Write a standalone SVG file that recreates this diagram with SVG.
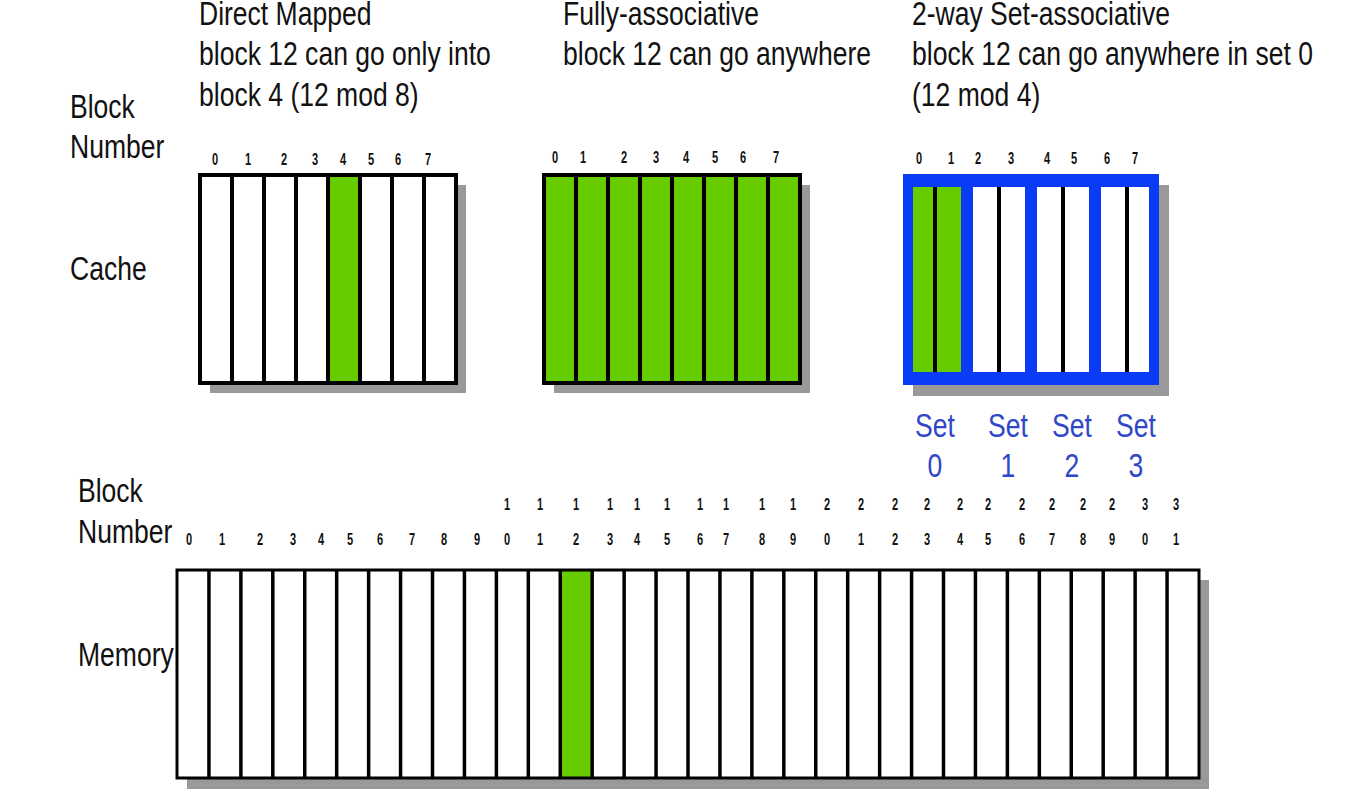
<svg xmlns="http://www.w3.org/2000/svg" width="1346" height="798" viewBox="0 0 1346 798">
<style>
.t{font-family:"Liberation Sans",Arial,sans-serif;font-size:34px;fill:#111}
.s{font-family:"Liberation Sans",Arial,sans-serif;font-size:34px;fill:#2f46c8;text-anchor:middle}
.d{font-family:"Liberation Sans",Arial,sans-serif;font-size:17px;font-weight:bold;fill:#111;text-anchor:middle}
.sh{fill:#999}
.w{fill:#fff}
.g{fill:#66cc00}
.box{fill:none;stroke:#000;stroke-width:4}
.sep{stroke:#000;stroke-width:4}
.msep{stroke:#000;stroke-width:3.5}
</style>
<rect width="1346" height="798" fill="#fff"/>
<g id="labels">
<text class="t" transform="translate(199 25) scale(0.78 1)">Direct Mapped</text>
<text class="t" transform="translate(199 65) scale(0.78 1)">block 12 can go only into</text>
<text class="t" transform="translate(199 106) scale(0.78 1)">block 4 (12 mod 8)</text>
<text class="t" transform="translate(563 25) scale(0.78 1)">Fully-associative</text>
<text class="t" transform="translate(563 65) scale(0.78 1)">block 12 can go anywhere</text>
<text class="t" transform="translate(912 25) scale(0.78 1)">2-way Set-associative</text>
<text class="t" transform="translate(912 65) scale(0.78 1)">block 12 can go anywhere in set 0</text>
<text class="t" transform="translate(912 106) scale(0.78 1)">(12 mod 4)</text>
<text class="t" transform="translate(70 118) scale(0.78 1)">Block</text>
<text class="t" transform="translate(70 158) scale(0.78 1)">Number</text>
<text class="t" transform="translate(70 280) scale(0.78 1)">Cache</text>
<text class="t" transform="translate(78 502) scale(0.78 1)">Block</text>
<text class="t" transform="translate(78 543) scale(0.78 1)">Number</text>
<text class="t" transform="translate(78 666) scale(0.78 1)">Memory</text>
</g>
<g id="direct-mapped-cache">
<rect class="sh" x="210" y="185" width="256" height="208"/>
<rect class="w" x="200" y="175" width="256" height="208"/>
<rect class="g" x="328" y="175" width="32" height="208"/>
<path class="sep" d="M232 175V383M264 175V383M296 175V383M328 175V383M360 175V383M392 175V383M424 175V383"/>
<rect class="box" x="200" y="175" width="256" height="208"/>
<text class="d" transform="translate(215 165) scale(0.65 1)">0</text>
<text class="d" transform="translate(248 165) scale(0.65 1)">1</text>
<text class="d" transform="translate(284 165) scale(0.65 1)">2</text>
<text class="d" transform="translate(315 165) scale(0.65 1)">3</text>
<text class="d" transform="translate(343 165) scale(0.65 1)">4</text>
<text class="d" transform="translate(371 165) scale(0.65 1)">5</text>
<text class="d" transform="translate(398 165) scale(0.65 1)">6</text>
<text class="d" transform="translate(428 165) scale(0.65 1)">7</text>
</g>
<g id="fully-associative-cache">
<rect class="sh" x="554" y="185" width="256" height="208"/>
<rect class="g" x="544" y="175" width="256" height="208"/>
<path class="sep" d="M576 175V383M608 175V383M640 175V383M672 175V383M704 175V383M736 175V383M768 175V383"/>
<rect class="box" x="544" y="175" width="256" height="208"/>
<text class="d" transform="translate(555 163) scale(0.65 1)">0</text>
<text class="d" transform="translate(583 163) scale(0.65 1)">1</text>
<text class="d" transform="translate(624 163) scale(0.65 1)">2</text>
<text class="d" transform="translate(656 163) scale(0.65 1)">3</text>
<text class="d" transform="translate(686 163) scale(0.65 1)">4</text>
<text class="d" transform="translate(715 163) scale(0.65 1)">5</text>
<text class="d" transform="translate(743 163) scale(0.65 1)">6</text>
<text class="d" transform="translate(776 163) scale(0.65 1)">7</text>
</g>
<g id="set-associative-cache">
<rect class="sh" x="913" y="185" width="256" height="211"/>
<rect x="903" y="174" width="256" height="211" fill="#0a3cf5"/>
<rect class="g" x="913" y="187" width="48" height="185"/>
<rect class="w" x="973" y="187" width="52" height="185"/>
<rect class="w" x="1037" y="187" width="52" height="185"/>
<rect class="w" x="1101" y="187" width="48" height="185"/>
<path class="sep" d="M935 187V372M999 187V372M1063 187V372M1127 187V372"/>
<text class="d" transform="translate(919 164) scale(0.65 1)">0</text>
<text class="d" transform="translate(951 164) scale(0.65 1)">1</text>
<text class="d" transform="translate(978 164) scale(0.65 1)">2</text>
<text class="d" transform="translate(1011 164) scale(0.65 1)">3</text>
<text class="d" transform="translate(1047 164) scale(0.65 1)">4</text>
<text class="d" transform="translate(1074 164) scale(0.65 1)">5</text>
<text class="d" transform="translate(1107 164) scale(0.65 1)">6</text>
<text class="d" transform="translate(1135 164) scale(0.65 1)">7</text>
<text class="s" transform="translate(935 437) scale(0.78 1)">Set</text>
<text class="s" transform="translate(935 477) scale(0.78 1)">0</text>
<text class="s" transform="translate(1008 437) scale(0.78 1)">Set</text>
<text class="s" transform="translate(1008 477) scale(0.78 1)">1</text>
<text class="s" transform="translate(1072 437) scale(0.78 1)">Set</text>
<text class="s" transform="translate(1072 477) scale(0.78 1)">2</text>
<text class="s" transform="translate(1136 437) scale(0.78 1)">Set</text>
<text class="s" transform="translate(1136 477) scale(0.78 1)">3</text>
</g>
<g id="memory">
<rect class="sh" x="187" y="580" width="1022" height="209"/>
<rect class="w" x="177" y="570" width="1022" height="208"/>
<rect class="g" x="560.25" y="570" width="31.94" height="208"/>
<path class="msep" d="M208.94 570V778M240.88 570V778M272.81 570V778M304.75 570V778M336.69 570V778M368.63 570V778M400.56 570V778M432.5 570V778M464.44 570V778M496.38 570V778M528.31 570V778M560.25 570V778M592.19 570V778M624.13 570V778M656.06 570V778M688 570V778M719.94 570V778M751.88 570V778M783.81 570V778M815.75 570V778M847.69 570V778M879.63 570V778M911.56 570V778M943.5 570V778M975.44 570V778M1007.38 570V778M1039.31 570V778M1071.25 570V778M1103.19 570V778M1135.13 570V778M1167.06 570V778"/>
<rect x="177" y="570" width="1022" height="208" fill="none" stroke="#000" stroke-width="3"/>
<text class="d" transform="translate(189 545) scale(0.65 1)">0</text>
<text class="d" transform="translate(222 545) scale(0.65 1)">1</text>
<text class="d" transform="translate(260 545) scale(0.65 1)">2</text>
<text class="d" transform="translate(293 545) scale(0.65 1)">3</text>
<text class="d" transform="translate(321 545) scale(0.65 1)">4</text>
<text class="d" transform="translate(350 545) scale(0.65 1)">5</text>
<text class="d" transform="translate(380 545) scale(0.65 1)">6</text>
<text class="d" transform="translate(412 545) scale(0.65 1)">7</text>
<text class="d" transform="translate(444 545) scale(0.65 1)">8</text>
<text class="d" transform="translate(477 545) scale(0.65 1)">9</text>
<text class="d" transform="translate(507 510) scale(0.65 1)">1</text>
<text class="d" transform="translate(507 545) scale(0.65 1)">0</text>
<text class="d" transform="translate(540 510) scale(0.65 1)">1</text>
<text class="d" transform="translate(540 545) scale(0.65 1)">1</text>
<text class="d" transform="translate(576 510) scale(0.65 1)">1</text>
<text class="d" transform="translate(576 545) scale(0.65 1)">2</text>
<text class="d" transform="translate(610 510) scale(0.65 1)">1</text>
<text class="d" transform="translate(610 545) scale(0.65 1)">3</text>
<text class="d" transform="translate(637 510) scale(0.65 1)">1</text>
<text class="d" transform="translate(637 545) scale(0.65 1)">4</text>
<text class="d" transform="translate(667 510) scale(0.65 1)">1</text>
<text class="d" transform="translate(667 545) scale(0.65 1)">5</text>
<text class="d" transform="translate(700 510) scale(0.65 1)">1</text>
<text class="d" transform="translate(700 545) scale(0.65 1)">6</text>
<text class="d" transform="translate(726 510) scale(0.65 1)">1</text>
<text class="d" transform="translate(726 545) scale(0.65 1)">7</text>
<text class="d" transform="translate(762 510) scale(0.65 1)">1</text>
<text class="d" transform="translate(762 545) scale(0.65 1)">8</text>
<text class="d" transform="translate(793 510) scale(0.65 1)">1</text>
<text class="d" transform="translate(793 545) scale(0.65 1)">9</text>
<text class="d" transform="translate(827 510) scale(0.65 1)">2</text>
<text class="d" transform="translate(827 545) scale(0.65 1)">0</text>
<text class="d" transform="translate(861 510) scale(0.65 1)">2</text>
<text class="d" transform="translate(861 545) scale(0.65 1)">1</text>
<text class="d" transform="translate(895 510) scale(0.65 1)">2</text>
<text class="d" transform="translate(895 545) scale(0.65 1)">2</text>
<text class="d" transform="translate(927 510) scale(0.65 1)">2</text>
<text class="d" transform="translate(927 545) scale(0.65 1)">3</text>
<text class="d" transform="translate(960 510) scale(0.65 1)">2</text>
<text class="d" transform="translate(960 545) scale(0.65 1)">4</text>
<text class="d" transform="translate(988 510) scale(0.65 1)">2</text>
<text class="d" transform="translate(988 545) scale(0.65 1)">5</text>
<text class="d" transform="translate(1022 510) scale(0.65 1)">2</text>
<text class="d" transform="translate(1022 545) scale(0.65 1)">6</text>
<text class="d" transform="translate(1052 510) scale(0.65 1)">2</text>
<text class="d" transform="translate(1052 545) scale(0.65 1)">7</text>
<text class="d" transform="translate(1083 510) scale(0.65 1)">2</text>
<text class="d" transform="translate(1083 545) scale(0.65 1)">8</text>
<text class="d" transform="translate(1112 510) scale(0.65 1)">2</text>
<text class="d" transform="translate(1112 545) scale(0.65 1)">9</text>
<text class="d" transform="translate(1145 510) scale(0.65 1)">3</text>
<text class="d" transform="translate(1145 545) scale(0.65 1)">0</text>
<text class="d" transform="translate(1176 510) scale(0.65 1)">3</text>
<text class="d" transform="translate(1176 545) scale(0.65 1)">1</text>
</g>
</svg>
